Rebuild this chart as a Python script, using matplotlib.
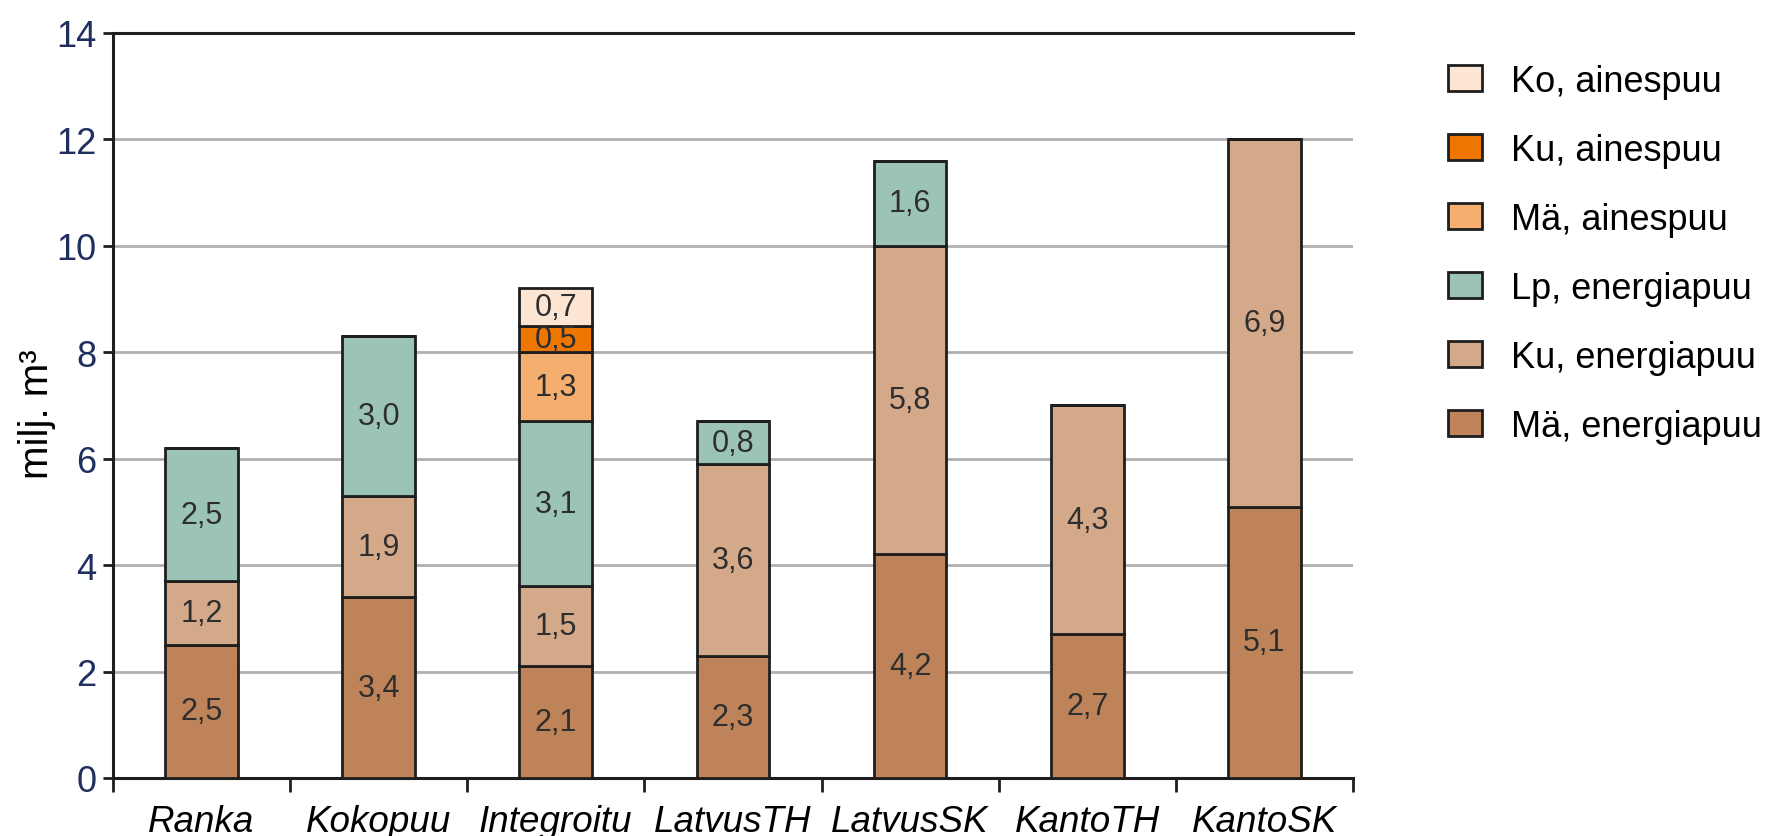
import matplotlib
matplotlib.use("Agg")
import matplotlib.pyplot as plt
import numpy as np

plt.rcParams['font.family'] = ['Liberation Sans', 'DejaVu Sans']

# menetelmät ja kertymät (milj. m3)
methods = ['Ranka', 'Kokopuu', 'Integroitu', 'LatvusTH', 'LatvusSK', 'KantoTH', 'KantoSK']
ma_energia = [2.5, 3.4, 2.1, 2.3, 4.2, 2.7, 5.1]
ku_energia = [1.2, 1.9, 1.5, 3.6, 5.8, 4.3, 6.9]
lp_energia = [2.5, 3.0, 3.1, 0.8, 1.6, 0.0, 0.0]
ma_aines = [0.0, 0.0, 1.3, 0.0, 0.0, 0.0, 0.0]
ku_aines = [0.0, 0.0, 0.5, 0.0, 0.0, 0.0, 0.0]
ko_aines = [0.0, 0.0, 0.7, 0.0, 0.0, 0.0, 0.0]

series = [
    ('Mä, energiapuu', ma_energia, '#bf835a'),
    ('Ku, energiapuu', ku_energia, '#d4a98a'),
    ('Lp, energiapuu', lp_energia, '#9bc3b6'),
    ('Mä, ainespuu', ma_aines, '#f4ae6f'),
    ('Ku, ainespuu', ku_aines, '#ee7600'),
    ('Ko, ainespuu', ko_aines, '#fde5d4'),
]

fig = plt.figure(figsize=(17.73, 8.37), dpi=100)
ax = fig.add_axes([0.0637, 0.0693, 0.6994, 0.8901])

x = np.arange(len(methods))
bottom = np.zeros(len(methods))
handles = []
for name, vals, col in series:
    vals = np.array(vals)
    bars = ax.bar(x, vals, 0.41, bottom=bottom, color=col, edgecolor='#1e1e1e',
                  linewidth=2.0, label=name, zorder=3)
    handles.append(bars)
    for xi, v, b in zip(x, vals, bottom):
        if v > 0:
            ax.text(xi, b + v / 2, f'{v:.1f}'.replace('.', ','), ha='center', va='center',
                    fontsize=22, color='#2e2e2e', zorder=4)
    bottom += vals

ax.set_xlim(-0.5, len(methods) - 0.5)
ax.set_ylim(0, 14)
ax.set_yticks(np.arange(0, 15, 2))
ax.set_yticklabels([str(v) for v in range(0, 15, 2)], fontsize=26, color='#1f2f5f')
ax.yaxis.grid(True, color='#b0b0b0', linewidth=2.0, zorder=0)
ax.set_axisbelow(True)

# nimet sarakkeiden keskelle, jakoviivat sarakkeiden väliin
ax.set_xticks(x)
ax.set_xticklabels(methods, fontsize=26.5, style='italic')
ax.set_xticks(np.arange(-0.5, len(methods)), minor=True)
ax.tick_params(axis='x', which='major', length=0, pad=19)
ax.tick_params(axis='x', which='minor', length=10, width=2.0, color='#1e1e1e')
ax.tick_params(axis='y', length=7, width=2.0, color='#1e1e1e', pad=5)

for side in ['left', 'bottom', 'top']:
    ax.spines[side].set_linewidth(2.2)
    ax.spines[side].set_color('#1e1e1e')
ax.spines['right'].set_visible(False)

ax.set_ylabel('milj. m³', fontsize=29, va='center')
ax.yaxis.set_label_coords(-0.061, 0.49)

leg = ax.legend(handles[::-1], [s[0] for s in series][::-1], loc='upper left',
                bbox_to_anchor=(0.8065, 0.944), bbox_transform=fig.transFigure,
                frameon=False, fontsize=26, handlelength=0.94, handleheight=0.72,
                handletextpad=0.8, labelspacing=0.94, borderpad=0)
for p in leg.get_patches():
    p.set_linewidth(2.0)

fig.savefig('out.png', dpi=100)
